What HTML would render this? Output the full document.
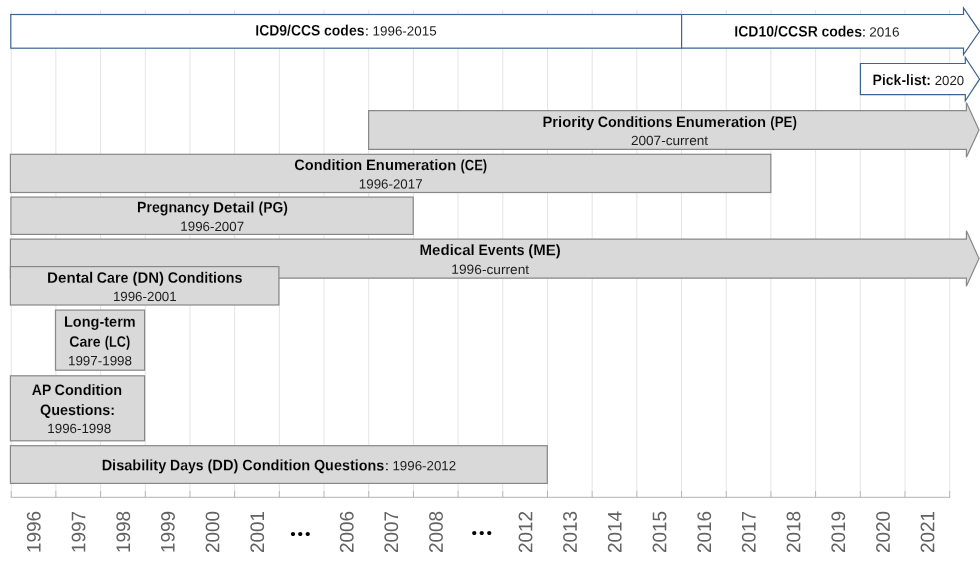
<!DOCTYPE html>
<html lang="en"><head><meta charset="utf-8"><title>MEPS condition data timeline</title>
<style>html,body{margin:0;padding:0;background:#fff;overflow:hidden}svg{display:block;will-change:transform}text{font-family:"Liberation Sans",sans-serif}.b{font-weight:bold;font-size:15.1px;fill:#000;stroke:#d9d9d9;stroke-width:0.12px}.w{stroke:#fff}.r{font-weight:normal;font-size:13.3px;fill:#1c1c1c}.y{font-size:19.6px;fill:#626262}.d{font-family:"Liberation Serif",serif;font-weight:bold;font-size:26px;fill:#000}</style></head><body>
<svg width="980" height="565" viewBox="0 0 980 565">
<rect width="980" height="565" fill="#fff"/>
<g stroke="#e4e4e4" stroke-width="1">
<line x1="11.20" y1="10" x2="11.20" y2="491"/>
<line x1="55.89" y1="10" x2="55.89" y2="491"/>
<line x1="100.58" y1="10" x2="100.58" y2="491"/>
<line x1="145.27" y1="10" x2="145.27" y2="491"/>
<line x1="189.96" y1="10" x2="189.96" y2="491"/>
<line x1="234.65" y1="10" x2="234.65" y2="491"/>
<line x1="279.34" y1="10" x2="279.34" y2="491"/>
<line x1="324.03" y1="10" x2="324.03" y2="491"/>
<line x1="368.72" y1="10" x2="368.72" y2="491"/>
<line x1="413.41" y1="10" x2="413.41" y2="491"/>
<line x1="458.10" y1="10" x2="458.10" y2="491"/>
<line x1="502.79" y1="10" x2="502.79" y2="491"/>
<line x1="547.48" y1="10" x2="547.48" y2="491"/>
<line x1="592.17" y1="10" x2="592.17" y2="491"/>
<line x1="636.86" y1="10" x2="636.86" y2="491"/>
<line x1="681.55" y1="10" x2="681.55" y2="491"/>
<line x1="726.24" y1="10" x2="726.24" y2="491"/>
<line x1="770.93" y1="10" x2="770.93" y2="491"/>
<line x1="815.62" y1="10" x2="815.62" y2="491"/>
<line x1="860.31" y1="10" x2="860.31" y2="491"/>
<line x1="905.00" y1="10" x2="905.00" y2="491"/>
<line x1="949.69" y1="10" x2="949.69" y2="491"/>
</g>
<g stroke="#b3b3b3" stroke-width="1" fill="none">
<line x1="10.70" y1="497.3" x2="950.19" y2="497.3"/>
<line x1="11.20" y1="491" x2="11.20" y2="497.3"/>
<line x1="55.89" y1="491" x2="55.89" y2="497.3"/>
<line x1="100.58" y1="491" x2="100.58" y2="497.3"/>
<line x1="145.27" y1="491" x2="145.27" y2="497.3"/>
<line x1="189.96" y1="491" x2="189.96" y2="497.3"/>
<line x1="234.65" y1="491" x2="234.65" y2="497.3"/>
<line x1="279.34" y1="491" x2="279.34" y2="497.3"/>
<line x1="324.03" y1="491" x2="324.03" y2="497.3"/>
<line x1="368.72" y1="491" x2="368.72" y2="497.3"/>
<line x1="413.41" y1="491" x2="413.41" y2="497.3"/>
<line x1="458.10" y1="491" x2="458.10" y2="497.3"/>
<line x1="502.79" y1="491" x2="502.79" y2="497.3"/>
<line x1="547.48" y1="491" x2="547.48" y2="497.3"/>
<line x1="592.17" y1="491" x2="592.17" y2="497.3"/>
<line x1="636.86" y1="491" x2="636.86" y2="497.3"/>
<line x1="681.55" y1="491" x2="681.55" y2="497.3"/>
<line x1="726.24" y1="491" x2="726.24" y2="497.3"/>
<line x1="770.93" y1="491" x2="770.93" y2="497.3"/>
<line x1="815.62" y1="491" x2="815.62" y2="497.3"/>
<line x1="860.31" y1="491" x2="860.31" y2="497.3"/>
<line x1="905.00" y1="491" x2="905.00" y2="497.3"/>
<line x1="949.69" y1="491" x2="949.69" y2="497.3"/>
</g>
<g fill="#fff" stroke="#3d6491" stroke-width="1.2" stroke-linejoin="miter">
<rect x="10.8" y="14.5" width="670.8" height="33.7"/>
<polygon points="681.6,14.5 963.5,14.5 963.5,7.9 979.6,31.3 963.5,54.6 963.5,48.2 681.6,48.2"/>
<polygon points="860.4,63.5 965.3,63.5 965.3,57.5 979.6,79.2 965.3,100.8 965.3,94.6 860.4,94.6"/>
</g>
<g fill="#d9d9d9" stroke="#888888" stroke-width="1.2" stroke-linejoin="miter">
<polygon points="368.6,110.6 966.4,110.6 966.4,102.6 979.0,130 966.4,157.2 966.4,149.3 368.6,149.3"/>
<rect x="10.4" y="154.3" width="760.4" height="38.2"/>
<rect x="10.9" y="197.1" width="402.3" height="37.3"/>
<polygon points="10.4,239.1 966.4,239.1 966.4,230.7 979.0,258.6 966.4,286.2 966.4,278.2 10.4,278.2"/>
<rect x="10.4" y="266.6" width="268.5" height="38.4"/>
<rect x="55.5" y="310.1" width="89.1" height="60.1"/>
<rect x="10.4" y="375.8" width="134.2" height="65.0"/>
<rect x="10.4" y="445.7" width="536.9" height="37.7"/>
</g>
<g>
<text class="b w" y="35.55" transform="rotate(0.04 310.0 35.5)"><tspan x="255.27" textLength="65.13" lengthAdjust="spacingAndGlyphs">ICD9/CCS</tspan> <tspan x="324.06" textLength="40.42" lengthAdjust="spacingAndGlyphs">codes</tspan></text>
<text class="r" y="35.55" transform="rotate(0.04 401.1 35.5)"><tspan x="364.24" textLength="5.35" lengthAdjust="spacingAndGlyphs">:</tspan> <tspan x="372.55" textLength="64.12" lengthAdjust="spacingAndGlyphs">1996-2015</tspan></text>
<text class="b w" y="36.60" transform="rotate(0.04 798.3 36.6)"><tspan x="734.26" textLength="83.53" lengthAdjust="spacingAndGlyphs">ICD10/CCSR</tspan> <tspan x="821.38" textLength="40.59" lengthAdjust="spacingAndGlyphs">codes</tspan></text>
<text class="r" y="36.60" transform="rotate(0.04 881.0 36.6)"><tspan x="861.24" textLength="5.36" lengthAdjust="spacingAndGlyphs">:</tspan> <tspan x="869.28" textLength="30.22" lengthAdjust="spacingAndGlyphs">2016</tspan></text>
<text class="b w" y="85.00" transform="rotate(0.04 901.6 85.0)"><tspan x="872.56" textLength="58.49" lengthAdjust="spacingAndGlyphs">Pick-list:</tspan></text>
<text class="r" y="85.00" transform="rotate(0.04 949.5 85.0)"><tspan x="934.74" textLength="29.38" lengthAdjust="spacingAndGlyphs">2020</tspan></text>
<text class="b" y="127.00" transform="rotate(0.04 669.9 127.0)"><tspan x="542.51" textLength="51.68" lengthAdjust="spacingAndGlyphs">Priority</tspan> <tspan x="597.72" textLength="74.73" lengthAdjust="spacingAndGlyphs">Conditions</tspan> <tspan x="676.03" textLength="90.12" lengthAdjust="spacingAndGlyphs">Enumeration</tspan> <tspan x="770.24" textLength="26.73" lengthAdjust="spacingAndGlyphs">(PE)</tspan></text>
<text class="r" y="145.10" transform="rotate(0.04 669.8 145.1)"><tspan x="630.92" textLength="77.18" lengthAdjust="spacingAndGlyphs">2007-current</tspan></text>
<text class="b" y="170.10" transform="rotate(0.04 390.6 170.1)"><tspan x="294.20" textLength="68.09" lengthAdjust="spacingAndGlyphs">Condition</tspan> <tspan x="366.02" textLength="90.32" lengthAdjust="spacingAndGlyphs">Enumeration</tspan> <tspan x="460.45" textLength="26.70" lengthAdjust="spacingAndGlyphs">(CE)</tspan></text>
<text class="r" y="188.60" transform="rotate(0.04 390.9 188.6)"><tspan x="358.89" textLength="63.68" lengthAdjust="spacingAndGlyphs">1996-2017</tspan></text>
<text class="b" y="212.40" transform="rotate(0.04 212.6 212.4)"><tspan x="136.95" textLength="72.40" lengthAdjust="spacingAndGlyphs">Pregnancy</tspan> <tspan x="213.08" textLength="41.41" lengthAdjust="spacingAndGlyphs">Detail</tspan> <tspan x="258.54" textLength="29.35" lengthAdjust="spacingAndGlyphs">(PG)</tspan></text>
<text class="r" y="230.90" transform="rotate(0.04 212.4 230.9)"><tspan x="180.39" textLength="63.68" lengthAdjust="spacingAndGlyphs">1996-2007</tspan></text>
<text class="b" y="255.10" transform="rotate(0.04 490.4 255.1)"><tspan x="419.59" textLength="55.21" lengthAdjust="spacingAndGlyphs">Medical</tspan> <tspan x="478.54" textLength="45.89" lengthAdjust="spacingAndGlyphs">Events</tspan> <tspan x="528.31" textLength="32.54" lengthAdjust="spacingAndGlyphs">(ME)</tspan></text>
<text class="r" y="273.90" transform="rotate(0.04 490.8 273.9)"><tspan x="451.35" textLength="77.85" lengthAdjust="spacingAndGlyphs">1996-current</tspan></text>
<text class="b" y="282.80" transform="rotate(0.04 145.1 282.8)"><tspan x="47.09" textLength="46.21" lengthAdjust="spacingAndGlyphs">Dental</tspan> <tspan x="96.77" textLength="31.68" lengthAdjust="spacingAndGlyphs">Care</tspan> <tspan x="132.54" textLength="31.41" lengthAdjust="spacingAndGlyphs">(DN)</tspan> <tspan x="167.76" textLength="74.83" lengthAdjust="spacingAndGlyphs">Conditions</tspan></text>
<text class="r" y="301.10" transform="rotate(0.04 144.9 301.1)"><tspan x="112.88" textLength="63.77" lengthAdjust="spacingAndGlyphs">1996-2001</tspan></text>
<text class="b" y="326.70" transform="rotate(0.04 99.9 326.7)"><tspan x="63.93" textLength="71.77" lengthAdjust="spacingAndGlyphs">Long-term</tspan></text>
<text class="b" y="346.80" transform="rotate(0.04 99.7 346.8)"><tspan x="69.22" textLength="31.41" lengthAdjust="spacingAndGlyphs">Care</tspan> <tspan x="104.78" textLength="25.35" lengthAdjust="spacingAndGlyphs">(LC)</tspan></text>
<text class="r" y="365.30" transform="rotate(0.04 100.2 365.3)"><tspan x="67.98" textLength="64.00" lengthAdjust="spacingAndGlyphs">1997-1998</tspan></text>
<text class="b" y="395.10" transform="rotate(0.04 76.7 395.1)"><tspan x="31.85" textLength="19.25" lengthAdjust="spacingAndGlyphs">AP</tspan> <tspan x="54.56" textLength="67.54" lengthAdjust="spacingAndGlyphs">Condition</tspan></text>
<text class="b" y="415.10" transform="rotate(0.04 77.2 415.1)"><tspan x="40.01" textLength="75.07" lengthAdjust="spacingAndGlyphs">Questions:</tspan></text>
<text class="r" y="433.10" transform="rotate(0.04 79.4 433.1)"><tspan x="47.28" textLength="63.90" lengthAdjust="spacingAndGlyphs">1996-1998</tspan></text>
<text class="b" y="470.30" transform="rotate(0.04 243.1 470.3)"><tspan x="101.63" textLength="64.62" lengthAdjust="spacingAndGlyphs">Disability</tspan> <tspan x="170.04" textLength="33.53" lengthAdjust="spacingAndGlyphs">Days</tspan> <tspan x="207.49" textLength="30.92" lengthAdjust="spacingAndGlyphs">(DD)</tspan> <tspan x="242.23" textLength="68.06" lengthAdjust="spacingAndGlyphs">Condition</tspan> <tspan x="313.92" textLength="70.37" lengthAdjust="spacingAndGlyphs">Questions</tspan></text>
<text class="r" y="470.30" transform="rotate(0.04 420.8 470.3)"><tspan x="384.26" textLength="5.28" lengthAdjust="spacingAndGlyphs">:</tspan> <tspan x="392.46" textLength="63.71" lengthAdjust="spacingAndGlyphs">1996-2012</tspan></text>
<text class="y" transform="translate(40.55 553.1) rotate(-89.96)" x="0" y="0" textLength="42.2" lengthAdjust="spacingAndGlyphs">1996</text>
<text class="y" transform="translate(85.23 553.1) rotate(-89.96)" x="0" y="0" textLength="42.2" lengthAdjust="spacingAndGlyphs">1997</text>
<text class="y" transform="translate(129.93 553.1) rotate(-89.96)" x="0" y="0" textLength="42.2" lengthAdjust="spacingAndGlyphs">1998</text>
<text class="y" transform="translate(174.61 553.1) rotate(-89.96)" x="0" y="0" textLength="42.2" lengthAdjust="spacingAndGlyphs">1999</text>
<text class="y" transform="translate(219.30 553.1) rotate(-89.96)" x="0" y="0" textLength="42.2" lengthAdjust="spacingAndGlyphs">2000</text>
<text class="y" transform="translate(264.00 553.1) rotate(-89.96)" x="0" y="0" textLength="42.2" lengthAdjust="spacingAndGlyphs">2001</text>
<text class="y" transform="translate(353.38 553.1) rotate(-89.96)" x="0" y="0" textLength="42.2" lengthAdjust="spacingAndGlyphs">2006</text>
<text class="y" transform="translate(398.06 553.1) rotate(-89.96)" x="0" y="0" textLength="42.2" lengthAdjust="spacingAndGlyphs">2007</text>
<text class="y" transform="translate(442.75 553.1) rotate(-89.96)" x="0" y="0" textLength="42.2" lengthAdjust="spacingAndGlyphs">2008</text>
<text class="y" transform="translate(532.13 553.1) rotate(-89.96)" x="0" y="0" textLength="42.2" lengthAdjust="spacingAndGlyphs">2012</text>
<text class="y" transform="translate(576.83 553.1) rotate(-89.96)" x="0" y="0" textLength="42.2" lengthAdjust="spacingAndGlyphs">2013</text>
<text class="y" transform="translate(621.52 553.1) rotate(-89.96)" x="0" y="0" textLength="42.2" lengthAdjust="spacingAndGlyphs">2014</text>
<text class="y" transform="translate(666.21 553.1) rotate(-89.96)" x="0" y="0" textLength="42.2" lengthAdjust="spacingAndGlyphs">2015</text>
<text class="y" transform="translate(710.89 553.1) rotate(-89.96)" x="0" y="0" textLength="42.2" lengthAdjust="spacingAndGlyphs">2016</text>
<text class="y" transform="translate(755.59 553.1) rotate(-89.96)" x="0" y="0" textLength="42.2" lengthAdjust="spacingAndGlyphs">2017</text>
<text class="y" transform="translate(800.28 553.1) rotate(-89.96)" x="0" y="0" textLength="42.2" lengthAdjust="spacingAndGlyphs">2018</text>
<text class="y" transform="translate(844.97 553.1) rotate(-89.96)" x="0" y="0" textLength="42.2" lengthAdjust="spacingAndGlyphs">2019</text>
<text class="y" transform="translate(889.65 553.1) rotate(-89.96)" x="0" y="0" textLength="42.2" lengthAdjust="spacingAndGlyphs">2020</text>
<text class="y" transform="translate(934.35 553.1) rotate(-89.96)" x="0" y="0" textLength="42.2" lengthAdjust="spacingAndGlyphs">2021</text>
<text class="d" x="289.65 297.0 304.45" y="535.8">...</text>
<text class="d" x="471.05 478.55 486.05" y="534.55">...</text>
</g>
</svg></body></html>
